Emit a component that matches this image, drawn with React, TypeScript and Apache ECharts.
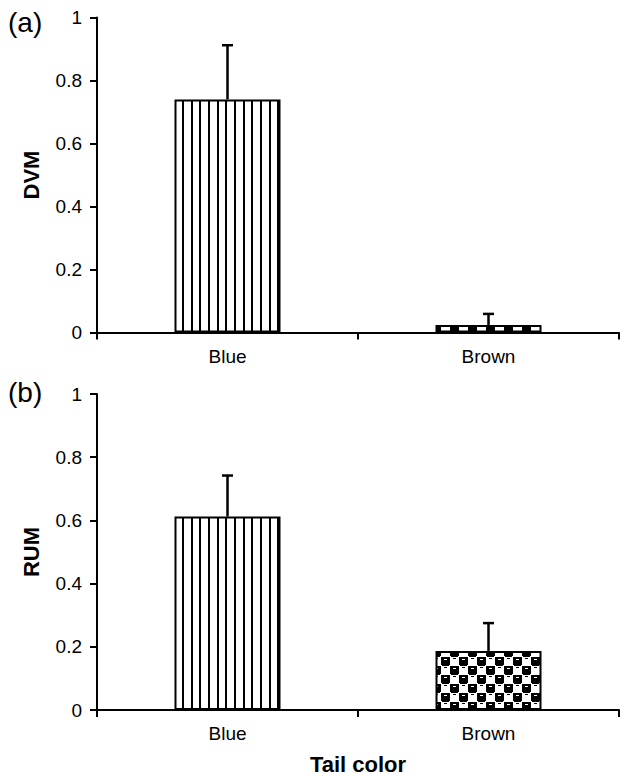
import React, { useEffect, useRef } from 'react';
import * as echarts from 'echarts';

const categories = ['Blue', 'Brown'];
const dvmMeans = [0.74, 0.024];
const dvmUpper = [0.912, 0.059];
const rumMeans = [0.612, 0.187];
const rumUpper = [0.742, 0.275];
const panelLabels = ['(a)', '(b)'];
const yNames = ['DVM', 'RUM'];
const xName = 'Tail color';

const FONT = "'Liberation Sans', Arial, Helvetica, sans-serif";

function makeStripe(): HTMLCanvasElement {
  const c = document.createElement('canvas');
  c.width = 26;
  c.height = 4;
  const ctx = c.getContext('2d')!;
  ctx.fillStyle = '#fff';
  ctx.fillRect(0, 0, 26, 4);
  ctx.fillStyle = '#000';
  [0, 9, 17].forEach((x) => ctx.fillRect(x, 0, 2, 4));
  return c;
}

function makeChecker(): HTMLCanvasElement {
  const s = 18;
  const h = 9;
  const c = document.createElement('canvas');
  c.width = s;
  c.height = s;
  const ctx = c.getContext('2d')!;
  ctx.fillStyle = '#fff';
  ctx.fillRect(0, 0, s, s);
  ctx.fillStyle = '#000';
  const blacks = [
    [0, 0],
    [h, h],
  ];
  blacks.forEach(([x, y]) => {
    ctx.fillRect(x, y, h, h - 1);
    ctx.fillRect(x + 1, y + h - 1, h - 2, 1);
  });
  ctx.fillStyle = '#fff';
  blacks.forEach(([x, y]) => {
    ctx.fillRect(x + 3, y + 2, 3, 1);
  });
  ctx.fillStyle = '#000';
  const whites = [
    [h, 0],
    [0, h],
  ];
  whites.forEach(([x, y]) => {
    ctx.fillRect(x + 3, y + 1, 3, 1);
  });
  return c;
}

export default function App() {
  const ref = useRef<HTMLDivElement>(null);

  useEffect(() => {
    if (!ref.current) return;
    const chart = echarts.init(ref.current, undefined, { renderer: 'svg' });
    const stripe = { image: makeStripe(), repeat: 'repeat', x: -1 } as any;
    const checker = { image: makeChecker(), repeat: 'repeat', x: 5, y: 3 } as any;
    const patterns = [stripe, checker];

    const errorRender = (params: any, api: any) => {
      const base = api.coord([api.value(0), api.value(1)]);
      const top = api.coord([api.value(0), api.value(2)]);
      const style = { stroke: '#000', lineWidth: 2.5 };
      return {
        type: 'group',
        children: [
          { type: 'line', shape: { x1: base[0], y1: base[1], x2: base[0], y2: top[1] }, style },
          { type: 'line', shape: { x1: base[0] - 5.5, y1: top[1], x2: base[0] + 5.5, y2: top[1] }, style },
        ],
      };
    };

    const meansList = [dvmMeans, rumMeans];
    const upperList = [dvmUpper, rumUpper];

    const axisLineStyle = { color: '#000', width: 2 };
    const labelStyle = { color: '#000', fontSize: 19, fontFamily: FONT };

    chart.setOption({
      animation: false,
      backgroundColor: '#fff',
      title: panelLabels.map((t, i) => ({
        text: t,
        left: 8,
        top: i === 0 ? 8 : 378,
        padding: 0,
        textStyle: { fontSize: 28, fontWeight: 'normal', fontFamily: FONT, color: '#000' },
      })),
      grid: [
        { left: 97, right: 3, top: 17.5, height: 315 },
        { left: 97, right: 3, top: 394, height: 320 },
      ],
      xAxis: [0, 1].map((i) => ({
        type: 'category',
        gridIndex: i,
        data: categories,
        axisLine: { show: true, lineStyle: axisLineStyle },
        axisTick: { show: true, length: 7, lineStyle: axisLineStyle },
        axisLabel: { ...labelStyle, margin: 14 },
        splitLine: { show: false },
        ...(i === 1
          ? {
              name: xName,
              nameLocation: 'middle',
              nameGap: 43,
              nameTextStyle: { fontSize: 22, fontWeight: 'bold', fontFamily: FONT, color: '#000' },
            }
          : {}),
      })),
      yAxis: [0, 1].map((i) => ({
        type: 'value',
        gridIndex: i,
        min: 0,
        max: 1,
        interval: 0.2,
        axisLine: { show: true, lineStyle: axisLineStyle },
        axisTick: { show: true, length: 7, lineStyle: axisLineStyle },
        axisLabel: { ...labelStyle, margin: 15 },
        splitLine: { show: false },
        name: yNames[i],
        nameLocation: 'middle',
        nameGap: 55,
        nameRotate: 90,
        nameTextStyle: { fontSize: 22, fontWeight: 'bold', fontFamily: FONT, color: '#000' },
      })),
      series: [
        ...[0, 1].map((i) => ({
          type: 'bar',
          xAxisIndex: i,
          yAxisIndex: i,
          barWidth: 106,
          data: meansList[i].map((v, j) => ({
            value: v,
            itemStyle: { color: patterns[j], borderColor: '#000', borderWidth: 2 },
          })),
        })),
        ...[0, 1].map((i) => ({
          type: 'custom',
          xAxisIndex: i,
          yAxisIndex: i,
          z: 5,
          renderItem: errorRender,
          data: categories.map((_, j) => [j, meansList[i][j], upperList[i][j]]),
        })),
      ],
    });
    return () => chart.dispose();
  }, []);

  return (
    <div
      ref={ref}
      style={{ position: 'fixed', left: 0, top: 0, width: 622, height: 776, background: '#fff' }}
    />
  );
}
